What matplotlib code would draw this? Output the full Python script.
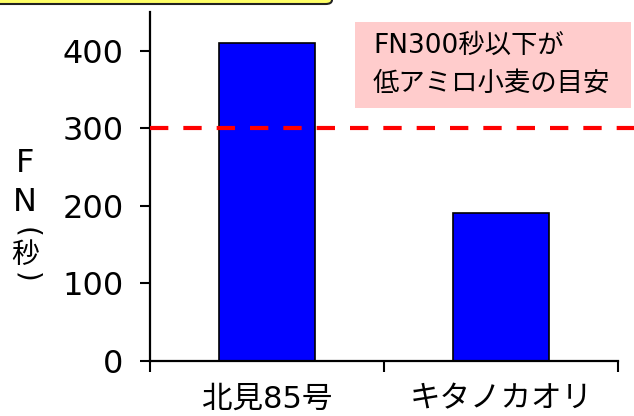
import matplotlib.pyplot as plt
from matplotlib.patches import Rectangle, FancyBboxPatch

plt.rcParams['font.family'] = ['DejaVu Sans', 'Noto Sans CJK JP']

# data
varieties = ['北見85号', 'キタノカオリ']
fn_seconds = [410, 191]
threshold = 300
yticks = [0, 100, 200, 300, 400]

W, H = 634, 416
fig = plt.figure(figsize=(W / 100, H / 100), dpi=100)
ax = fig.add_axes([150 / W, 1 - 361 / H, 468 / W, 349 / H])

x = range(len(varieties))
ax.bar(x, fn_seconds, width=0.41, color='#0000ff', edgecolor='black', linewidth=1.2, zorder=2)

# threshold line, runs a little past the axes
ax.plot([-0.5, 1.57], [threshold, threshold], color='#ff0000', linewidth=3,
        dashes=(4.4, 3.6), clip_on=False, zorder=3)

ax.set_xlim(-0.5, 1.5)
ax.set_ylim(0, 450)
ax.set_yticks(yticks)
ax.set_yticklabels([str(v) for v in yticks], fontsize=23)
ax.tick_params(axis='y', direction='out', length=7, width=1.5, pad=12)

# category boundaries get the ticks, names sit between them
ax.set_xticks([-0.5, 0.5, 1.5])
ax.set_xticklabels([])
ax.tick_params(axis='x', direction='out', length=8, width=1.5)
ax.set_xticks(list(x), minor=True)
ax.set_xticklabels(varieties, minor=True, fontsize=22)
ax.tick_params(axis='x', which='minor', length=0, pad=17)

for s in ['top', 'right']:
    ax.spines[s].set_visible(False)
for s in ['left', 'bottom']:
    ax.spines[s].set_linewidth(1.6)

# vertical y label: F / N / (秒)
fig.text(25 / W, 1 - 163 / H, 'F', fontsize=23, ha='center', va='center')
fig.text(25 / W, 1 - 203 / H, 'N', fontsize=23, ha='center', va='center')
fig.text(26 / W, 1 - 232 / H, '(', fontsize=20, rotation=-90, rotation_mode='anchor',
         ha='center', va='center')
fig.text(25 / W, 1 - 255 / H, '秒', fontsize=20, ha='center', va='center')
fig.text(26 / W, 1 - 277 / H, ')', fontsize=20, rotation=-90, rotation_mode='anchor',
         ha='center', va='center')

# pink note box
fig.patches.append(Rectangle((355 / W, 1 - 108 / H), 276 / W, 86 / H,
                             transform=fig.transFigure, facecolor='#ffcccc',
                             edgecolor='none', zorder=0))
fig.text(373 / W, 1 - 46 / H, 'FN300秒以下が', fontsize=19, ha='left', va='center')
fig.text(373 / W, 1 - 84 / H, '低アミロ小麦の目安', fontsize=19, ha='left', va='center')

# edge of the yellow title box cut off at the top
fig.patches.append(FancyBboxPatch((-20 / W, 1 - 4 / H), 352 / W, 30 / H,
                                  boxstyle='round,pad=0,rounding_size=0.01',
                                  transform=fig.transFigure, facecolor='#ffff66',
                                  edgecolor='#222222', linewidth=1.5, zorder=0))

fig.savefig('out.png', dpi=100)
